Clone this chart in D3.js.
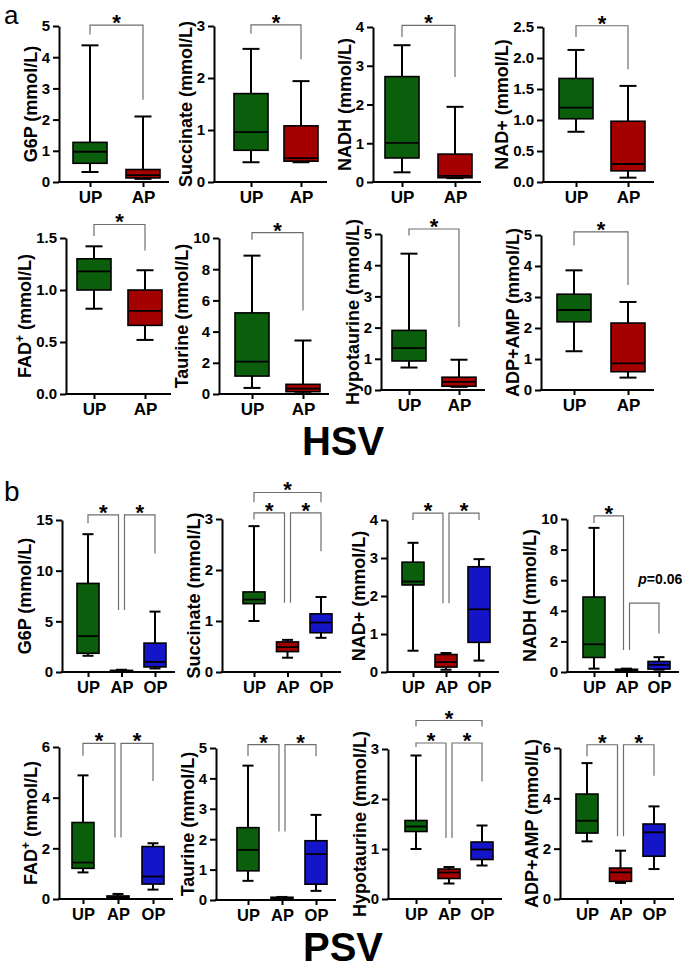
<!DOCTYPE html>
<html>
<head>
<meta charset="utf-8">
<script src="https://cdn.jsdelivr.net/npm/d3@7"></script>
<style>
  body { margin: 0; background: #fff; }
  svg { display: block; }
  text { font-family: "Liberation Sans", Arial, sans-serif; }
</style>
</head>
<body>
<svg id="fig"></svg>
<script>
// ---- data ----
// each box: [min, q1, median, q3, max]
let hsvGroups = ["UP", "AP"]
let psvGroups = ["UP", "AP", "OP"]

let hsvNames = ["G6P", "Succinate", "NADH", "NAD+", "FAD+", "Taurine", "Hypotaurine", "ADP+AMP"]
let hsvMax = [5, 3, 4, 2.5, 1.5, 10, 5, 5]
let hsvStep = [1, 1, 1, 0.5, 0.5, 2, 1, 1]
let hsvBoxes = [
  [[0.32, 0.6, 0.97, 1.27, 4.38], [0.1, 0.13, 0.22, 0.4, 2.1]],
  [[0.38, 0.61, 0.96, 1.7, 2.56], [0.38, 0.4, 0.46, 1.08, 1.94]],
  [[0.25, 0.62, 1.01, 2.72, 3.53], [0.1, 0.11, 0.16, 0.72, 1.94]],
  [[0.81, 1.02, 1.2, 1.67, 2.13], [0.07, 0.18, 0.29, 0.98, 1.55]],
  [[0.82, 1.0, 1.18, 1.3, 1.42], [0.52, 0.66, 0.8, 1.0, 1.19]],
  [[0.39, 1.15, 2.08, 5.2, 8.87], [0.05, 0.15, 0.35, 0.62, 3.43]],
  [[0.72, 0.93, 1.34, 1.91, 4.37], [0.1, 0.12, 0.26, 0.41, 0.97]],
  [[1.25, 2.2, 2.58, 3.09, 3.86], [0.4, 0.59, 0.86, 2.16, 2.84]]
]
// significance: [group a, group b, bracket top, leg a end, leg b end, label]
let hsvSig = [
  [[0, 1, 5.03, 4.73, 2.64, "*"]],
  [[0, 1, 3.02, 2.85, 2.36, "*"]],
  [[0, 1, 4.04, 3.74, 2.71, "*"]],
  [[0, 1, 2.52, 2.34, 1.82, "*"]],
  [[0, 1, 1.63, 1.52, 1.38, "*"]],
  [[0, 1, 10.34, 9.89, 5.35, "*"]],
  [[0, 1, 5.16, 4.95, 2.02, "*"]],
  [[0, 1, 5.1, 4.66, 3.39, "*"]]
]

let psvNames = ["G6P", "Succinate", "NAD+", "NADH", "FAD+", "Taurine", "Hypotaurine", "ADP+AMP"]
let psvMax = [15, 3, 4, 10, 6, 5, 3, 6]
let psvStep = [5, 1, 1, 2, 2, 1, 1, 2]
let psvBoxes = [
  [[1.6, 1.85, 3.54, 8.74, 13.6], [0.03, 0.06, 0.1, 0.16, 0.22], [0.35, 0.5, 1.0, 2.85, 5.96]],
  [[1.0, 1.34, 1.42, 1.57, 2.86], [0.28, 0.4, 0.49, 0.59, 0.63], [0.67, 0.77, 0.97, 1.14, 1.47]],
  [[0.56, 2.29, 2.38, 2.89, 3.4], [0.06, 0.13, 0.26, 0.46, 0.5], [0.3, 0.78, 1.65, 2.77, 2.97]],
  [[0.22, 0.95, 1.81, 4.9, 9.42], [0.02, 0.05, 0.1, 0.18, 0.22], [0.15, 0.19, 0.47, 0.69, 0.97]],
  [[1.05, 1.21, 1.44, 3.02, 4.88], [0.02, 0.03, 0.07, 0.12, 0.2], [0.37, 0.59, 0.89, 2.07, 2.2]],
  [[0.63, 0.96, 1.65, 2.38, 4.42], [0.02, 0.03, 0.06, 0.09, 0.1], [0.3, 0.52, 1.51, 1.95, 2.8]],
  [[1.0, 1.35, 1.45, 1.57, 2.87], [0.31, 0.41, 0.53, 0.6, 0.64], [0.67, 0.79, 0.99, 1.14, 1.47]],
  [[2.29, 2.62, 3.11, 4.17, 5.4], [0.64, 0.7, 1.06, 1.23, 1.92], [1.19, 1.7, 2.65, 2.98, 3.68]]
]
let psvSig = [
  [[0, 1, 15.5, 14.67, 6.13, "*"], [1, 2, 15.5, 6.13, 11.69, "*"]],
  [[0, 2, 3.52, 3.33, 3.33, "*"], [0, 1, 3.12, 2.99, 1.36, "*"], [1, 2, 3.12, 1.36, 2.37, "*"]],
  [[0, 1, 4.18, 4.0, 1.81, "*"], [1, 2, 4.18, 1.81, 4.0, "*"]],
  [[0, 1, 10.2, 9.74, 1.44, "*"], [1, 2, 4.5, 1.44, 2.52, "p=0.06"]],
  [[0, 1, 6.14, 5.65, 2.43, "*"], [1, 2, 6.14, 2.43, 4.66, "*"]],
  [[0, 1, 5.11, 4.73, 2.25, "*"], [1, 2, 5.11, 2.25, 4.73, "*"]],
  [[0, 2, 3.57, 3.45, 3.45, "*"], [0, 1, 3.12, 3.04, 1.22, "*"], [1, 2, 3.12, 1.22, 2.35, "*"]],
  [[0, 1, 6.13, 5.67, 2.49, "*"], [1, 2, 6.13, 2.49, 4.9, "*"]]
]

// ---- layout ----
let width = 685
let height = 968
let colors = {UP: "#0b5e0b", AP: "#a50000", OP: "#1414c8"}

// [axis x, first group x, last group x, top y, zero y]
let hsvLayout = [
  [59, 90, 143, 26, 182], [214, 251, 301, 26, 182], [373, 402, 455, 27, 182], [543, 576, 628, 27, 182],
  [66, 94, 145, 238, 394], [219, 252, 303, 238, 394], [381, 409, 459, 234, 390], [541, 574, 628, 235, 390]
]
let psvLayout = [
  [62, 88, 155, 520, 672], [222, 254, 321, 519, 672], [387, 413, 479, 520, 672], [567, 594, 659, 519, 672],
  [59, 83, 153, 747, 899], [216, 248, 316, 748, 900], [388, 416, 482, 749, 899], [560, 587, 654, 748, 899]
]

let svg = d3.select("#fig").attr("width", width).attr("height", height)

let drawPanel = (name, groups, boxes, sig, maxV, step, lay) => {
  let [ax, gx0, gx1, top, bottom] = lay
  let three = groups.length === 3
  let bw = three ? 22 : 34
  let g = svg.append("g")

  let y = d3.scaleLinear().domain([0, maxV]).range([bottom, top])
  let x = d3.scalePoint().domain(groups).range([gx0, gx1])

  // boxes
  groups.forEach((grp, i) => {
    let [mn, q1, md, q3, mx] = boxes[i]
    let cx = x(grp)
    g.append("line").attr("x1", cx).attr("x2", cx).attr("y1", y(mx)).attr("y2", y(q3))
      .attr("stroke", "#000").attr("stroke-width", 2)
    g.append("line").attr("x1", cx).attr("x2", cx).attr("y1", y(q1)).attr("y2", y(mn))
      .attr("stroke", "#000").attr("stroke-width", 2)
    g.append("line").attr("x1", cx - bw / 4).attr("x2", cx + bw / 4).attr("y1", y(mx)).attr("y2", y(mx))
      .attr("stroke", "#000").attr("stroke-width", 2)
    g.append("line").attr("x1", cx - bw / 4).attr("x2", cx + bw / 4).attr("y1", y(mn)).attr("y2", y(mn))
      .attr("stroke", "#000").attr("stroke-width", 2)
    g.append("rect").attr("x", cx - bw / 2).attr("width", bw)
      .attr("y", y(q3)).attr("height", Math.max(y(q1) - y(q3), 1))
      .attr("fill", colors[grp]).attr("stroke", "#000").attr("stroke-width", 1.6)
    g.append("line").attr("x1", cx - bw / 2).attr("x2", cx + bw / 2).attr("y1", y(md)).attr("y2", y(md))
      .attr("stroke", "#000").attr("stroke-width", 1.8)
  })

  // y axis
  let ticks = d3.range(0, maxV + step / 2, step)
  let yAxis = d3.axisLeft(y).tickValues(ticks).tickSize(6).tickSizeOuter(0).tickPadding(3)
    .tickFormat(step < 1 ? d3.format(".1f") : d3.format("d"))
  let ya = g.append("g").attr("transform", "translate(" + ax + ",0)").call(yAxis)
  ya.selectAll("path,line").attr("stroke", "#000").attr("stroke-width", 2)
  ya.selectAll("text").attr("font-size", 15).attr("font-weight", "bold").attr("fill", "#000")
    .attr("font-family", "Liberation Sans, Arial, sans-serif")

  // x axis
  let xEnd = gx1 + (three ? 20 : 26)
  g.append("line").attr("x1", ax - 1).attr("x2", xEnd).attr("y1", bottom).attr("y2", bottom)
    .attr("stroke", "#000").attr("stroke-width", 2)
  let xAxis = d3.axisBottom(x).tickSize(5).tickSizeOuter(0).tickPadding(4)
  let xa = g.append("g").attr("transform", "translate(0," + bottom + ")").call(xAxis)
  xa.select(".domain").remove()
  xa.selectAll("line").attr("stroke", "#000").attr("stroke-width", 2)
  xa.selectAll("text").attr("font-size", three ? 16.5 : 17).attr("font-weight", "bold").attr("fill", "#000")
    .attr("font-family", "Liberation Sans, Arial, sans-serif")

  // y label
  let bb = ya.node().getBBox()
  let lab = g.append("text")
    .attr("transform", "translate(" + (ax + bb.x - 5) + "," + ((top + bottom) / 2) + ") rotate(-90)")
    .attr("text-anchor", "middle").attr("font-size", 18).attr("font-weight", "bold")
  if (name === "FAD+") {
    lab.append("tspan").text("FAD")
    lab.append("tspan").text("+").attr("font-size", 12).attr("dy", -7)
    lab.append("tspan").text(" (mmol/L)").attr("dy", 7)
  } else {
    lab.text(name + " (mmol/L)")
  }

  // significance brackets
  sig.forEach(s => {
    let [a, b, t, la, lb, label] = s
    let xa1 = x(groups[a]) + (three && a === 1 ? 3 : 0)
    let xb1 = x(groups[b]) - (three && b === 1 ? 3 : 0)
    g.append("path")
      .attr("d", "M" + xa1 + "," + y(la) + "V" + y(t) + "H" + xb1 + "V" + y(lb))
      .attr("fill", "none").attr("stroke", "#6e6e6e").attr("stroke-width", 1.2)
    let mid = (xa1 + xb1) / 2
    if (label === "*") {
      g.append("text").attr("x", mid).attr("y", y(t) + 5).attr("text-anchor", "middle")
        .attr("font-size", 22).attr("font-weight", "bold").text("*")
    } else {
      let pt = g.append("text").attr("x", mid + 16).attr("y", y(t) - 19).attr("text-anchor", "middle")
        .attr("font-size", 14).attr("font-weight", "bold")
      pt.append("tspan").attr("font-style", "italic").text(label.slice(0, 1))
      pt.append("tspan").text(label.slice(1))
    }
  })
}

hsvNames.forEach((n, i) => drawPanel(n, hsvGroups, hsvBoxes[i], hsvSig[i], hsvMax[i], hsvStep[i], hsvLayout[i]))
psvNames.forEach((n, i) => drawPanel(n, psvGroups, psvBoxes[i], psvSig[i], psvMax[i], psvStep[i], psvLayout[i]))

// panel letters and titles
svg.append("text").attr("x", 4).attr("y", 24).attr("font-size", 26).text("a")
svg.append("text").attr("x", 4).attr("y", 501).attr("font-size", 28).text("b")
svg.append("text").attr("x", 343).attr("y", 455).attr("text-anchor", "middle")
  .attr("font-size", 40).attr("font-weight", "bold").text("HSV")
svg.append("text").attr("x", 343).attr("y", 961).attr("text-anchor", "middle")
  .attr("font-size", 40).attr("font-weight", "bold").text("PSV")
</script>
</body>
</html>
